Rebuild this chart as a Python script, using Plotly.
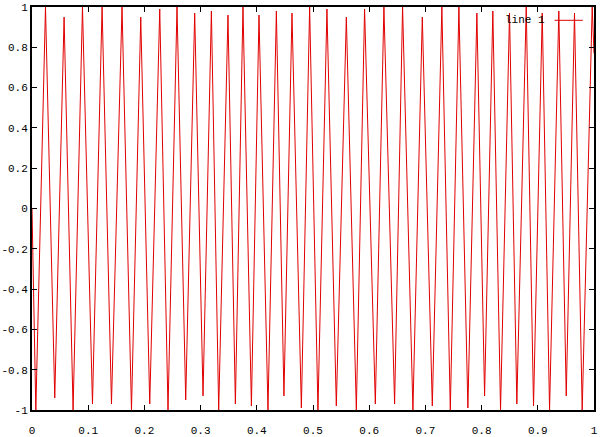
import plotly.graph_objects as go

# Vertices of the curve (peaks and troughs)
x_vals = [
    0.0, 0.0068, 0.0240, 0.0405, 0.0571, 0.0731, 0.0898, 0.1076, 0.1247,
    0.1414, 0.1602, 0.1770, 0.1935, 0.2095, 0.2273, 0.2420, 0.2580, 0.2735,
    0.2895, 0.3043, 0.3192, 0.3322, 0.3487, 0.3619, 0.3754, 0.3904, 0.4039,
    0.4199, 0.4348, 0.4483, 0.4626, 0.4793, 0.4940, 0.5088, 0.5248, 0.5415,
    0.5593, 0.5771, 0.5918, 0.6109, 0.6262, 0.6452, 0.6594, 0.6778, 0.6945,
    0.7123, 0.7293, 0.7443, 0.7596, 0.7756, 0.7916, 0.8053, 0.8200, 0.8337,
    0.8497, 0.8627, 0.8794, 0.8924, 0.9079, 0.9209, 0.9374, 0.9506, 0.9653,
    0.9790, 0.9968, 1.0,
]
y_vals = [
    0.0, -1.0, 1.0, -0.94, 0.95, -1.0, 1.0, -0.97, 1.0,
    -0.97, 1.0, -1.0, 0.95, -0.97, 0.99, -1.0, 1.0, -0.95,
    0.97, -0.93, 0.98, -1.0, 0.96, -0.97, 1.0, -0.98, 0.96,
    -1.0, 0.98, -0.93, 0.97, -0.99, 1.0, -1.0, 0.99, -0.98,
    0.95, -1.0, 0.99, -0.97, 1.0, -0.97, 1.0, -1.0, 0.95,
    -0.98, 1.0, -1.0, 1.0, -0.99, 0.97, -0.93, 0.98, -1.0,
    0.97, -0.97, 1.0, -0.98, 0.97, -1.0, 0.98, -0.93, 0.97,
    -1.0, 1.0, 0.77,
]

x_ticks = [0, 0.1, 0.2, 0.3, 0.4, 0.5, 0.6, 0.7, 0.8, 0.9, 1]
x_labels = ["0", "0.1", "0.2", "0.3", "0.4", "0.5", "0.6", "0.7", "0.8", "0.9", "1"]
y_ticks = [-1, -0.8, -0.6, -0.4, -0.2, 0, 0.2, 0.4, 0.6, 0.8, 1]
y_labels = ["-1", "-0.8", "-0.6", "-0.4", "-0.2", "0", "0.2", "0.4", "0.6", "0.8", "1"]

FONT = dict(family="Liberation Mono, DejaVu Sans Mono, monospace", size=11, color="black")
LINE_COLOR = "#e00000"

fig = go.Figure(go.Scatter(
    x=x_vals, y=y_vals,
    mode="lines",
    name="line 1",
    line=dict(color=LINE_COLOR, width=1),
    cliponaxis=False,
))

axis_style = dict(
    showgrid=False, zeroline=False, automargin=False,
    showline=True, linecolor="black", linewidth=2, mirror="allticks",
    ticks="inside", ticklen=5, tickcolor="black", tickwidth=1,
    tickfont=FONT,
)
fig.update_xaxes(range=[0, 1], tickvals=x_ticks, ticktext=x_labels,
                 ticklabelstandoff=9, **axis_style)
fig.update_yaxes(range=[-1, 1], tickvals=y_ticks, ticktext=y_labels, **axis_style)

# gnuplot-style key: text on the left, line sample on the right
fig.add_annotation(
    xref="paper", yref="paper", x=0.917, y=0.967,
    text="line 1", showarrow=False, xanchor="right", yanchor="middle",
    font=FONT,
)
fig.add_shape(
    type="line", xref="paper", yref="paper",
    x0=0.930, x1=0.980, y0=0.967, y1=0.967,
    line=dict(color=LINE_COLOR, width=1),
)

fig.update_layout(
    width=601, height=437,
    margin=dict(l=32, r=7, t=7, b=27),
    paper_bgcolor="white", plot_bgcolor="white",
    showlegend=False,
    font=FONT,
)

# drop the page's default body margin so the figure fills the window
fig.write_html(
    "out.html",
    config={"displayModeBar": False},
    post_script="document.body.style.margin='0';document.body.style.overflow='hidden';",
)
